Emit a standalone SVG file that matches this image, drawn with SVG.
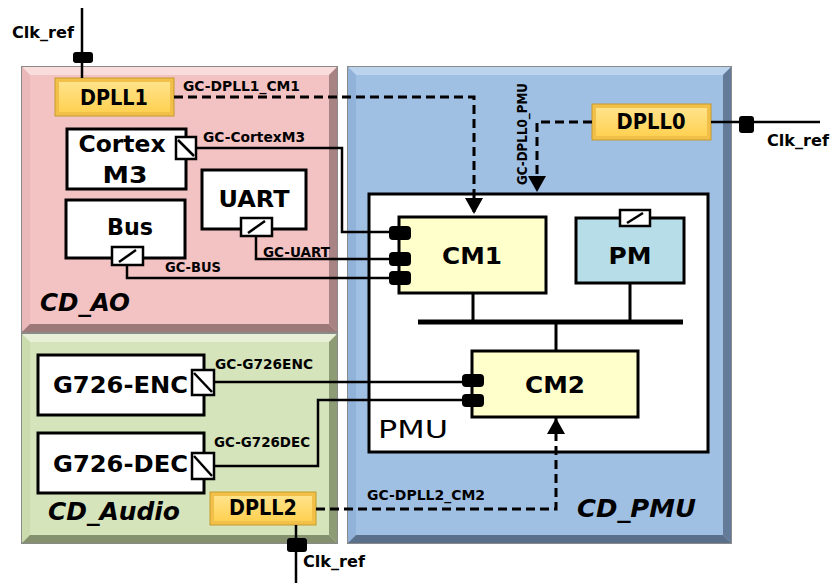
<svg xmlns="http://www.w3.org/2000/svg" width="832" height="583" viewBox="0 0 832 583">
<defs>
<style>
text{font-family:"DejaVu Sans","Liberation Sans",sans-serif;font-weight:bold;fill:#000}
.sm{font-size:14px}
.ck{font-size:16px}
.nd{font-size:23px}
.dp{font-size:21px}
.cd{font-size:24px;font-style:italic}
.box{fill:#fff;stroke:#000;stroke-width:3}
.ln{fill:none;stroke:#000;stroke-width:2.5}
.dash{fill:none;stroke:#000;stroke-width:3;stroke-dasharray:9,5}
.gate{fill:#fff;stroke:#000;stroke-width:2.5}
.blob{fill:#000}
.frame{stroke:#8a8a8a;stroke-width:2}
</style>
<marker id="arr" markerUnits="userSpaceOnUse" viewBox="0 0 16 18" markerWidth="16" markerHeight="18" refX="16" refY="9" orient="auto">
<path d="M0,0 L16,9 L0,18 z" fill="#000"/>
</marker>
<linearGradient id="gold" x1="0" y1="0" x2="0" y2="1">
<stop offset="0" stop-color="#FFE38A"/>
<stop offset="1" stop-color="#FFD152"/>
</linearGradient>
</defs>
<rect width="832" height="583" fill="#fff"/>

<g id="CD_AO">
<rect class="frame" x="22" y="67" width="315" height="265" fill="#F3C3C3"/>
<polygon points="22,67 337,67 329,75 30,75" fill="#F9DCDC"/>
<polygon points="22,67 30,75 30,324 22,332" fill="#EAB8B8"/>
<polygon points="337,67 337,332 329,324 329,75" fill="#A88383"/>
<polygon points="22,332 337,332 329,324 30,324" fill="#9C7878"/>
<rect x="30" y="75" width="299" height="249" fill="#F3C3C3"/>
<text class="cd" x="40" y="311" textLength="90" lengthAdjust="spacingAndGlyphs">CD_AO</text>
</g>

<g id="CD_Audio">
<rect class="frame" x="22" y="334" width="315" height="209" fill="#D6E4BC"/>
<polygon points="22,334 337,334 329,342 30,342" fill="#E7F0D6"/>
<polygon points="22,334 30,342 30,535 22,543" fill="#CADBAE"/>
<polygon points="337,334 337,543 329,535 329,342" fill="#8E9C76"/>
<polygon points="22,543 337,543 329,535 30,535" fill="#84906E"/>
<rect x="30" y="342" width="299" height="193" fill="#D6E4BC"/>
<text class="cd" x="48" y="520" textLength="132" lengthAdjust="spacingAndGlyphs">CD_Audio</text>
</g>

<g id="CD_PMU">
<rect class="frame" x="348" y="67" width="383" height="476" fill="#9FBFE3"/>
<polygon points="348,67 731,67 723,75 356,75" fill="#BCD3EE"/>
<polygon points="348,67 356,75 356,535 348,543" fill="#92B3D9"/>
<polygon points="731,67 731,543 723,535 723,75" fill="#637B98"/>
<polygon points="348,543 731,543 723,535 356,535" fill="#5A708A"/>
<rect x="356" y="75" width="367" height="460" fill="#9FBFE3"/>
<text class="cd" x="577" y="517" textLength="119" lengthAdjust="spacingAndGlyphs">CD_PMU</text>
</g>

<g id="PMU">
<rect x="369" y="194" width="339" height="258" fill="#fff" stroke="#000" stroke-width="3"/>
<text x="378" y="438" style="font-weight:normal;font-size:25px" textLength="70" lengthAdjust="spacingAndGlyphs">PMU</text>
</g>

<g id="DPLL1">
<rect x="55" y="78" width="119" height="38" fill="#F2C048" stroke="#C49A2C" stroke-width="1"/>
<rect x="59" y="82" width="111" height="30" fill="url(#gold)"/>
<text class="dp" x="114" y="105" text-anchor="middle" textLength="68" lengthAdjust="spacingAndGlyphs">DPLL1</text>
</g>

<g id="DPLL0">
<rect x="592" y="104" width="119" height="36" fill="#F2C048" stroke="#C49A2C" stroke-width="1"/>
<rect x="596" y="108" width="111" height="28" fill="url(#gold)"/>
<text class="dp" x="651" y="129" text-anchor="middle" textLength="69" lengthAdjust="spacingAndGlyphs">DPLL0</text>
</g>

<g id="DPLL2">
<rect x="210" y="492" width="106" height="33" fill="#F2C048" stroke="#C49A2C" stroke-width="1"/>
<rect x="214" y="496" width="98" height="25" fill="url(#gold)"/>
<text class="dp" x="263" y="515" text-anchor="middle" textLength="68" lengthAdjust="spacingAndGlyphs">DPLL2</text>
</g>

<g id="CortexM3">
<rect class="box" x="67" y="129" width="119" height="60"/>
<text class="nd" x="122" y="152" text-anchor="middle" textLength="87" lengthAdjust="spacingAndGlyphs">Cortex</text>
<text class="nd" x="125" y="183" text-anchor="middle" textLength="45" lengthAdjust="spacingAndGlyphs">M3</text>
<rect class="gate" x="176" y="137" width="20" height="22"/>
<line x1="178" y1="140" x2="194" y2="156" stroke="#000" stroke-width="2.5"/>
</g>

<g id="UART">
<rect class="box" x="202" y="170" width="104" height="59"/>
<text class="nd" x="254" y="207" text-anchor="middle" textLength="71" lengthAdjust="spacingAndGlyphs">UART</text>
<rect class="gate" x="241" y="218" width="31" height="18"/>
<line x1="248" y1="233" x2="265" y2="221" stroke="#000" stroke-width="2.5"/>
</g>

<g id="Bus">
<rect class="box" x="66" y="200" width="119" height="58"/>
<text class="nd" x="130" y="235" text-anchor="middle" textLength="46" lengthAdjust="spacingAndGlyphs">Bus</text>
<rect class="gate" x="112" y="247" width="31" height="18"/>
<line x1="119" y1="262" x2="136" y2="250" stroke="#000" stroke-width="2.5"/>
</g>

<g id="G726-ENC">
<rect class="box" x="38" y="355" width="166" height="60"/>
<text class="nd" x="53" y="393" textLength="135" lengthAdjust="spacingAndGlyphs">G726-ENC</text>
<rect class="gate" x="192" y="370" width="22" height="25"/>
<line x1="194" y1="373" x2="212" y2="392" stroke="#000" stroke-width="2.5"/>
</g>

<g id="G726-DEC">
<rect class="box" x="38" y="433" width="166" height="60"/>
<text class="nd" x="53" y="472" textLength="135" lengthAdjust="spacingAndGlyphs">G726-DEC</text>
<rect class="gate" x="192" y="453" width="22" height="26"/>
<line x1="194" y1="456" x2="212" y2="476" stroke="#000" stroke-width="2.5"/>
</g>

<g id="connectors">
<path class="ln" d="M82,8 V78"/>
<rect class="blob" x="73" y="52" width="20" height="11" rx="3"/>
<path class="ln" d="M711,122 H820"/>
<rect class="blob" x="739" y="116" width="15" height="17" rx="3"/>
<path class="ln" d="M296,525 V583"/>
<rect class="blob" x="287" y="538" width="20" height="14" rx="3"/>

<path class="dash" d="M174,97 H474 V214" marker-end="url(#arr)"/>
<path class="dash" d="M592,122 H537 V192" marker-end="url(#arr)"/>
<path class="dash" d="M316,509 H556 V418" marker-end="url(#arr)"/>

<path class="ln" d="M196,148 H342 V232 H400"/>
<path class="ln" d="M256,236 V259 H400"/>
<path class="ln" d="M127,265 V278 H400"/>
<path class="ln" d="M214,382 H466"/>
<path class="ln" d="M214,466 H318 V400 H466"/>

<path d="M418,322 H683" stroke="#000" stroke-width="5"/>
<path class="ln" d="M473,293 V322 M630,283 V322 M556,322 V351" style="stroke-width:3"/>
</g>

<g id="CM1">
<rect x="399" y="217" width="147" height="76" fill="#FFFFCC" stroke="#000" stroke-width="3"/>
<text class="nd" x="472" y="264" text-anchor="middle" textLength="60" lengthAdjust="spacingAndGlyphs">CM1</text>
<rect class="blob" x="389" y="226" width="22" height="14" rx="4"/>
<rect class="blob" x="389" y="252" width="22" height="14" rx="4"/>
<rect class="blob" x="389" y="271" width="22" height="14" rx="4"/>
</g>

<g id="PM">
<rect x="576" y="218" width="108" height="65" fill="#B7DDE8" stroke="#000" stroke-width="3"/>
<text class="nd" x="630" y="264" text-anchor="middle" textLength="43" lengthAdjust="spacingAndGlyphs">PM</text>
<rect class="gate" x="620" y="210" width="30" height="16"/>
<line x1="627" y1="223" x2="643" y2="213" stroke="#000" stroke-width="2.5"/>
</g>

<g id="CM2">
<rect x="472" y="351" width="166" height="66" fill="#FFFFCC" stroke="#000" stroke-width="3"/>
<text class="nd" x="555" y="393" text-anchor="middle" textLength="60" lengthAdjust="spacingAndGlyphs">CM2</text>
<rect class="blob" x="462" y="374" width="22" height="13" rx="4"/>
<rect class="blob" x="462" y="394" width="22" height="13" rx="4"/>
</g>

<g id="labels">
<text class="ck" x="12" y="38" textLength="62" lengthAdjust="spacingAndGlyphs">Clk_ref</text>
<text class="ck" x="767" y="146" textLength="62" lengthAdjust="spacingAndGlyphs">Clk_ref</text>
<text class="ck" x="303" y="567" textLength="62" lengthAdjust="spacingAndGlyphs">Clk_ref</text>
<text class="sm" x="183" y="91" textLength="117" lengthAdjust="spacingAndGlyphs">GC-DPLL1_CM1</text>
<text class="sm" x="203" y="142" textLength="102" lengthAdjust="spacingAndGlyphs">GC-CortexM3</text>
<text class="sm" x="263" y="257" textLength="67" lengthAdjust="spacingAndGlyphs">GC-UART</text>
<text class="sm" x="165" y="272" textLength="56" lengthAdjust="spacingAndGlyphs">GC-BUS</text>
<text class="sm" x="215" y="369" textLength="98" lengthAdjust="spacingAndGlyphs">GC-G726ENC</text>
<text class="sm" x="214" y="447" textLength="96" lengthAdjust="spacingAndGlyphs">GC-G726DEC</text>
<text class="sm" x="367" y="500" textLength="118" lengthAdjust="spacingAndGlyphs">GC-DPLL2_CM2</text>
<text class="sm" transform="translate(527,185) rotate(-90)" x="0" y="0" textLength="102" lengthAdjust="spacingAndGlyphs">GC-DPLL0_PMU</text>
</g>
</svg>
